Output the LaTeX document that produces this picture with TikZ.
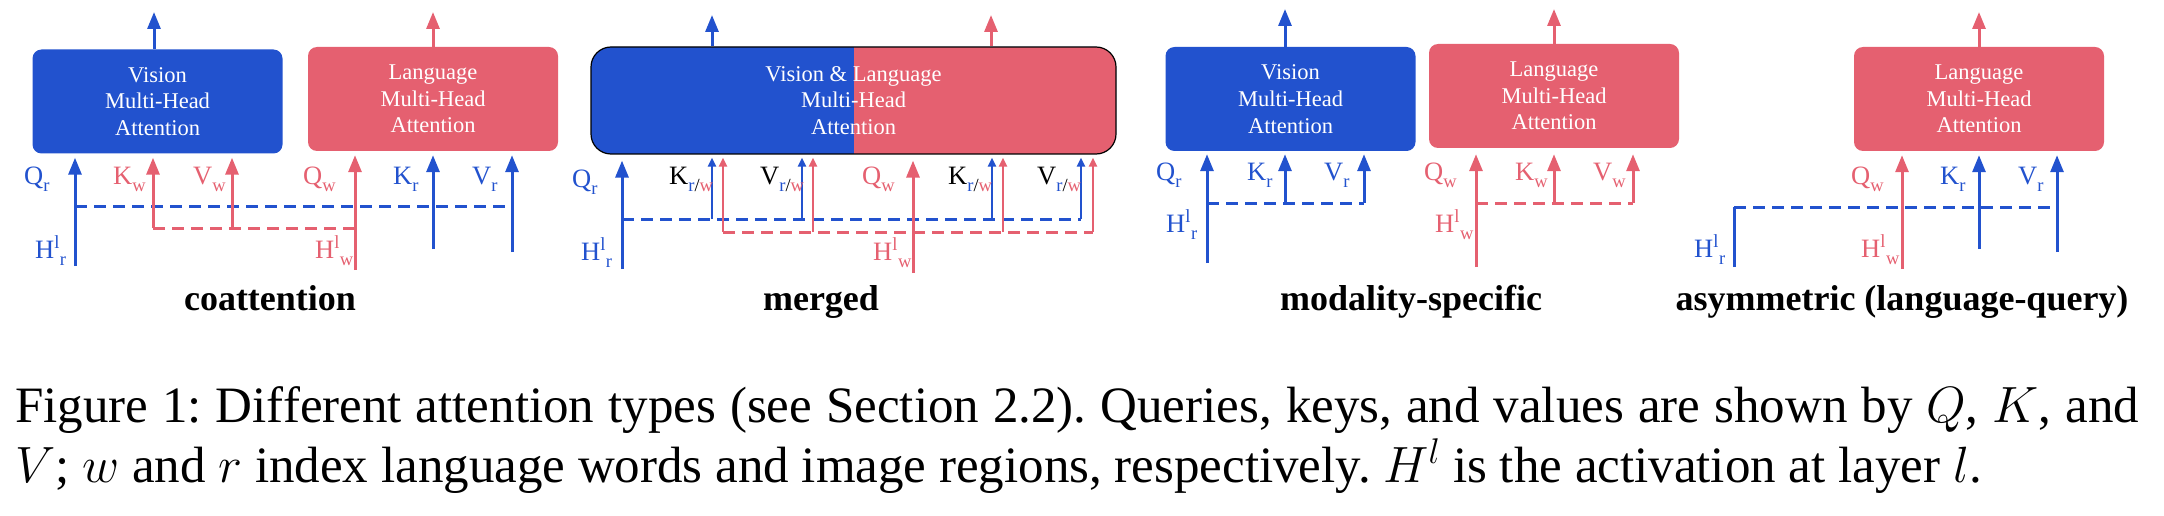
\documentclass[tikz,border=0pt]{standalone}
\usepackage{fix-cm}
\usepackage{fontspec}
\setmainfont{Liberation Serif}
\usepackage{tikz}
\usetikzlibrary{arrows.meta}
\definecolor{visblue}{RGB}{34,82,206}
\definecolor{langred}{RGB}{229,96,112}
\newcommand{\sbs}[1]{\raisebox{-7pt}{\fontsize{18.5}{19}\selectfont #1}}
\frenchspacing

\begin{document}
\begin{tikzpicture}[x=1pt,y=-1pt,
  attbox/.style={rectangle,rounded corners=9pt,text=white,align=center,inner sep=0pt,
    minimum width=250pt,minimum height=104pt,font=\fontsize{22.5}{26.7}\selectfont},
  vbx/.style={attbox,fill=visblue},
  lbx/.style={attbox,fill=langred},
  mbx/.style={attbox,rounded corners=20pt,draw=black,line width=1.2pt,fill=visblue,
    minimum width=525pt,minimum height=107pt,
    path picture={\fill[langred,sharp corners] (path picture bounding box.north) rectangle (path picture bounding box.south east);}},
  varr/.style={visblue,line width=3pt,-{Triangle[length=17pt,width=13pt]},shorten >=4pt},
  larr/.style={varr,langred},
  vout/.style={varr,shorten >=0pt},
  lout/.style={vout,langred},
  vtin/.style={visblue,line width=2pt,-{Triangle[length=9pt,width=8pt]},shorten >=3pt},
  ltin/.style={vtin,langred},
  vln/.style={visblue,line width=3pt},
  vdsh/.style={vln,dash pattern=on 12pt off 7pt},
  ldsh/.style={vdsh,langred},
  lab/.style={anchor=base west,inner sep=0pt,font=\fontsize{26.5}{30}\selectfont},
  ttl/.style={anchor=base,inner sep=0pt,font=\fontsize{36}{40}\selectfont\bfseries},
  capt/.style={anchor=base west,inner sep=0pt,font=\fontsize{51}{60}\selectfont}]
\useasboundingbox (0,0) rectangle (2164,516);

% coattention
\node[vbx] (cvis) at (157.5,101.5) {Vision\\Multi-Head\\Attention};
\node[lbx] (clan) at (433,99) {Language\\Multi-Head\\Attention};
\coordinate (cvo) at (154,12);
\coordinate (clo) at (433,12);
\draw[vout] (cvis.north -| cvo) -- (cvo);
\draw[lout] (clan.north -| clo) -- (clo);
\coordinate (cQr) at (75,266);
\coordinate (cKw) at (153,228);
\coordinate (cVw) at (232,228);
\coordinate (cQw) at (355,270);
\coordinate (cKr) at (433,249);
\coordinate (cVr) at (512,252);
\draw[vdsh] (cQr |- 0,206) -- (cVr |- 0,206);
\draw[varr] (cQr) -- (cQr |- cvis.south);
\draw[varr] (cKr) -- (cKr |- clan.south);
\draw[varr] (cVr) -- (cVr |- clan.south);
\draw[ldsh] (cKw) -- (cKw -| cQw);
\draw[larr] (cKw) -- (cKw |- cvis.south);
\draw[larr] (cVw) -- (cVw |- cvis.south);
\draw[larr] (cQw) -- (cQw |- clan.south);
\node[lab,visblue] (cQrl) at (24,185) {Q\sbs{r}};
\node[lab,langred] (cKwl) at (113,185) {K\sbs{w}};
\node[lab,langred] (cVwl) at (193,185) {V\sbs{w}};
\node[lab,langred] (cQwl) at (303,185) {Q\sbs{w}};
\node[lab,visblue] (cKrl) at (393,185) {K\sbs{r}};
\node[lab,visblue] (cVrl) at (472,185) {V\sbs{r}};
\node[lab,visblue] (cHrl) at (35,258) {H\textsuperscript{l}\sbs{r}};
\node[lab,langred] (cHwl) at (315,258) {H\textsuperscript{l}\sbs{w}};
\node[ttl] (ctl) at (270,310) {coattention};

% merged
\node[mbx] (mva) at (853.5,100.5) {Vision \& Language\\Multi-Head\\Attention};
\coordinate (mvo) at (712,15);
\coordinate (mlo) at (991,15);
\draw[vout] (mva.north -| mvo) -- (mvo);
\draw[lout] (mva.north -| mlo) -- (mlo);
\coordinate (mQr) at (622,269);
\coordinate (mQw) at (913,273);
\coordinate (mKv) at (712,219);
\coordinate (mVv) at (802,219);
\coordinate (mKv2) at (992,219);
\coordinate (mVv2) at (1081,219);
\coordinate (mKl) at (723,232);
\coordinate (mVl) at (813,232);
\coordinate (mKl2) at (1003,232);
\coordinate (mVl2) at (1093,232);
\draw[vdsh] (mQr |- mKv) -- (mVv2);
\draw[varr,shorten >=6pt] (mQr) -- (mQr |- mva.south);
\foreach \c in {mKv,mVv,mKv2,mVv2}
  \draw[vtin] (\c) -- (\c |- mva.south);
\draw[ldsh] (mKl) -- (mVl2);
\foreach \c in {mKl,mVl,mKl2,mVl2}
  \draw[ltin] (\c) -- (\c |- mva.south);
\draw[larr,shorten >=6pt] (mQw) -- (mQw |- mva.south);
\node[lab,visblue] (mQrl) at (572,187) {Q\sbs{r}};
\node[lab] (mKl1) at (669,184) {K\sbs{\color{visblue}r\color{black}/\color{langred}w}};
\node[lab] (mVl1) at (760,184) {V\sbs{\color{visblue}r\color{black}/\color{langred}w}};
\node[lab,langred] (mQwl) at (862,184) {Q\sbs{w}};
\node[lab] (mKl3) at (948,184) {K\sbs{\color{visblue}r\color{black}/\color{langred}w}};
\node[lab] (mVl3) at (1037,184) {V\sbs{\color{visblue}r\color{black}/\color{langred}w}};
\node[lab,visblue] (mHrl) at (581,260) {H\textsuperscript{l}\sbs{r}};
\node[lab,langred] (mHwl) at (873,260) {H\textsuperscript{l}\sbs{w}};
\node[ttl] (mtl) at (821,310) {merged};

% modality-specific
\node[vbx] (svis) at (1290.5,99) {Vision\\Multi-Head\\Attention};
\node[lbx] (slan) at (1554,96) {Language\\Multi-Head\\Attention};
\coordinate (svo) at (1285,9);
\coordinate (slo) at (1554,9);
\draw[vout] (svis.north -| svo) -- (svo);
\draw[lout] (slan.north -| slo) -- (slo);
\coordinate (sQr) at (1207,263);
\coordinate (sKr) at (1285,203);
\coordinate (sVr) at (1364,203);
\coordinate (sQw) at (1476,267);
\coordinate (sKw) at (1554,203);
\coordinate (sVw) at (1633,203);
\draw[vdsh] (sQr |- sKr) -- (sVr);
\draw[varr,shorten >=3pt] (sQr) -- (sQr |- svis.south);
\draw[varr,shorten >=3pt] (sKr) -- (sKr |- svis.south);
\draw[varr,shorten >=3pt] (sVr) -- (sVr |- svis.south);
\draw[ldsh] (sQw |- sKw) -- (sVw);
\draw[larr,shorten >=6pt] (sQw) -- (sQw |- slan.south);
\draw[larr,shorten >=6pt] (sKw) -- (sKw |- slan.south);
\draw[larr,shorten >=6pt] (sVw) -- (sVw |- slan.south);
\node[lab,visblue] (sQrl) at (1156,181) {Q\sbs{r}};
\node[lab,visblue] (sKrl) at (1247,181) {K\sbs{r}};
\node[lab,visblue] (sVrl) at (1324,181) {V\sbs{r}};
\node[lab,visblue] (sHrl) at (1166,232) {H\textsuperscript{l}\sbs{r}};
\node[lab,langred] (sQwl) at (1424,181) {Q\sbs{w}};
\node[lab,langred] (sKwl) at (1515,181) {K\sbs{w}};
\node[lab,langred] (sVwl) at (1593,181) {V\sbs{w}};
\node[lab,langred] (sHwl) at (1435,232) {H\textsuperscript{l}\sbs{w}};
\node[ttl] (stl) at (1411,310) {modality-specific};

% asymmetric (language-query)
\node[lbx] (alan) at (1979,99) {Language\\Multi-Head\\Attention};
\coordinate (alo) at (1979,12);
\draw[lout] (alan.north -| alo) -- (alo);
\coordinate (aHr) at (1734,267);
\coordinate (aBr) at (1734,207);
\coordinate (aQw) at (1902,269);
\coordinate (aKr) at (1979,249);
\coordinate (aVr) at (2057,252);
\draw[vln] (aHr) -- (aBr);
\draw[vdsh] (aBr) -- (aBr -| aVr);
\draw[varr] (aKr) -- (aKr |- alan.south);
\draw[varr] (aVr) -- (aVr |- alan.south);
\draw[larr] (aQw) -- (aQw |- alan.south);
\node[lab,langred] (aQwl) at (1851,185) {Q\sbs{w}};
\node[lab,visblue] (aKrl) at (1940,185) {K\sbs{r}};
\node[lab,visblue] (aVrl) at (2018,185) {V\sbs{r}};
\node[lab,visblue] (aHrl) at (1694,257) {H\textsuperscript{l}\sbs{r}};
\node[lab,langred] (aHwl) at (1861,257) {H\textsuperscript{l}\sbs{w}};
\node[ttl] (atl) at (1902,310) {asymmetric (language-query)};

% caption
\node[capt] (cap1) at (15,422) {\makebox[2124pt][s]{Figure 1: Different attention types (see Section 2.2). Queries, keys, and values are shown by $Q$, $K$, and}};
\node[capt] (cap2) at (15,482) {$V$; $w$ and $r$ index language words and image regions, respectively. $H^l$ is the activation at layer $l$.};

\end{tikzpicture}
\end{document}
